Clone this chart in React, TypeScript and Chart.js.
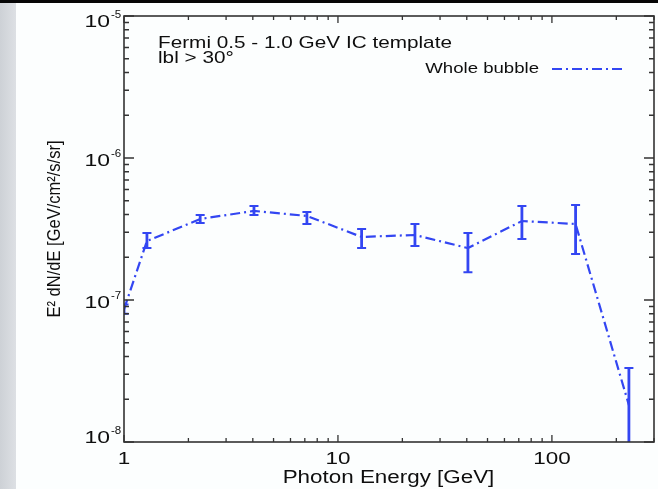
import React, { useEffect, useRef } from "react";
import { Chart, registerables } from "chart.js";

Chart.register(...registerables);

// ---- data ----
const energies = [1.0, 1.28, 2.27, 4.05, 7.16, 12.9, 22.9, 40.5, 72.4, 129, 229];
const flux = [8.6e-8, 2.6e-7, 3.72e-7, 4.24e-7, 3.91e-7, 2.78e-7, 2.87e-7, 2.32e-7, 3.6e-7, 3.43e-7, 1.82e-8];
const fluxHigh = [9.3e-8, 2.96e-7, 3.97e-7, 4.59e-7, 4.17e-7, 3.16e-7, 3.43e-7, 2.96e-7, 4.59e-7, 4.67e-7, 3.32e-8];
const fluxLow = [8.0e-8, 2.32e-7, 3.48e-7, 3.97e-7, 3.43e-7, 2.32e-7, 2.4e-7, 1.57e-7, 2.69e-7, 2.11e-7, 5e-9];

const xTickValues = [1, 10, 100];
const xTickLabels = ["1", "10", "100"];
const xMinorTicks = [2, 3, 4, 5, 6, 7, 8, 9, 20, 30, 40, 50, 60, 70, 80, 90, 200, 300];
const yTickValues = [1e-8, 1e-7, 1e-6, 1e-5];
const yTickBase = "10";
const yTickExponents = ["-8", "-7", "-6", "-5"];
const yMinorTicks = [2e-8, 3e-8, 4e-8, 5e-8, 6e-8, 7e-8, 8e-8, 9e-8, 2e-7, 3e-7, 4e-7, 5e-7, 6e-7, 7e-7, 8e-7, 9e-7, 2e-6, 3e-6, 4e-6, 5e-6, 6e-6, 7e-6, 8e-6, 9e-6];

const seriesLabel = "Whole bubble";
const annotationLines = ["Fermi 0.5 - 1.0 GeV IC template", "lbl > 30°"];
const xTitle = "Photon Energy [GeV]";
const yTitle = "E² dN/dE [GeV/cm²/s/sr]";

const BLUE = "#3346f2";
const DASH = [10, 4, 2, 4];
const FONT = '"Liberation Sans", Arial, Helvetica, sans-serif';
const TEXT = "#0e0e0e";

function stretchText(
  ctx: CanvasRenderingContext2D,
  text: string,
  x: number,
  y: number,
  size: number,
  sx: number,
  align: CanvasTextAlign
) {
  ctx.save();
  ctx.font = `${size}px ${FONT}`;
  ctx.fillStyle = TEXT;
  ctx.textAlign = align;
  ctx.textBaseline = "alphabetic";
  ctx.translate(x, y);
  ctx.scale(sx, 1);
  ctx.fillText(text, 0, 0);
  ctx.restore();
}

const decorPlugin = {
  id: "decor",
  beforeDraw(chart: any) {
    const ctx: CanvasRenderingContext2D = chart.ctx;
    const w = chart.width;
    const h = chart.height;
    ctx.save();
    ctx.fillStyle = "#fcfefe";
    ctx.fillRect(0, 0, w, h);
    const g = ctx.createLinearGradient(0, 0, 16, 0);
    g.addColorStop(0, "#cdd1d6");
    g.addColorStop(1, "#dde0e4");
    ctx.fillStyle = g;
    ctx.fillRect(0, 0, 16, h);
    ctx.fillStyle = "#060606";
    ctx.fillRect(0, 0, w, 3);
    ctx.restore();
  },
  afterDatasetsDraw(chart: any) {
    const ctx: CanvasRenderingContext2D = chart.ctx;
    const xs = chart.scales.x;
    const ys = chart.scales.y;
    const a = chart.chartArea;
    ctx.save();
    ctx.beginPath();
    ctx.rect(a.left, a.top, a.right - a.left, a.bottom - a.top);
    ctx.clip();
    ctx.strokeStyle = BLUE;
    energies.forEach((e, i) => {
      const px = xs.getPixelForValue(e);
      const ph = ys.getPixelForValue(fluxHigh[i]);
      const pl = ys.getPixelForValue(fluxLow[i]);
      ctx.lineWidth = 2.8;
      ctx.beginPath();
      ctx.moveTo(px, ph);
      ctx.lineTo(px, pl);
      ctx.stroke();
      ctx.lineWidth = 2;
      ctx.beginPath();
      ctx.moveTo(px - 4.5, ph);
      ctx.lineTo(px + 4.5, ph);
      ctx.moveTo(px - 4.5, pl);
      ctx.lineTo(px + 4.5, pl);
      ctx.stroke();
    });
    ctx.restore();
  },
  afterDraw(chart: any) {
    const ctx: CanvasRenderingContext2D = chart.ctx;
    const xs = chart.scales.x;
    const ys = chart.scales.y;
    const a = chart.chartArea;
    ctx.save();
    // frame
    ctx.strokeStyle = "#333333";
    ctx.lineWidth = 1.6;
    ctx.strokeRect(a.left, a.top, a.right - a.left, a.bottom - a.top);
    // ticks (inward on all sides)
    ctx.lineWidth = 1.3;
    ctx.beginPath();
    const xt = (v: number, len: number) => {
      const px = xs.getPixelForValue(v);
      if (px < a.left - 0.5 || px > a.right + 0.5) return;
      ctx.moveTo(px, a.bottom);
      ctx.lineTo(px, a.bottom - len);
      ctx.moveTo(px, a.top);
      ctx.lineTo(px, a.top + len);
    };
    xTickValues.forEach((v) => xt(v, 7));
    xMinorTicks.forEach((v) => xt(v, 4));
    const yt = (v: number, len: number) => {
      const py = ys.getPixelForValue(v);
      ctx.moveTo(a.left, py);
      ctx.lineTo(a.left + len, py);
      ctx.moveTo(a.right, py);
      ctx.lineTo(a.right - len, py);
    };
    yTickValues.forEach((v) => yt(v, 10));
    yMinorTicks.forEach((v) => yt(v, 5));
    ctx.stroke();
    ctx.restore();

    // x tick labels
    xTickValues.forEach((v, i) => {
      const px = xs.getPixelForValue(v);
      stretchText(ctx, xTickLabels[i], px, a.bottom + 22, 17, 1.32, "center");
    });
    // y tick labels: "10" with raised exponent
    yTickValues.forEach((v, i) => {
      const py = ys.getPixelForValue(v);
      const c = Math.min(Math.max(py + 2, a.top + 5), a.bottom - 5);
      stretchText(ctx, yTickBase, a.left - 14, c + 6, 17, 1.35, "right");
      stretchText(ctx, yTickExponents[i], a.left - 13, c - 3, 10.5, 1.1, "left");
    });
    // x title
    stretchText(ctx, xTitle, (a.left + a.right) / 2 - 0.5, 483, 17.5, 1.28, "center");
    // y title (rotated)
    ctx.save();
    ctx.font = `16.5px ${FONT}`;
    ctx.fillStyle = TEXT;
    ctx.textAlign = "center";
    ctx.textBaseline = "alphabetic";
    ctx.translate(60, 229);
    ctx.scale(1.15, 1);
    ctx.rotate(-Math.PI / 2);
    ctx.fillText(yTitle, 0, 0);
    ctx.restore();
    // annotation
    stretchText(ctx, annotationLines[0], 158, 48, 17, 1.22, "left");
    stretchText(ctx, annotationLines[1], 158, 63, 17, 1.22, "left");
    // legend
    stretchText(ctx, seriesLabel, 539, 73, 15.5, 1.2, "right");
    ctx.save();
    ctx.strokeStyle = BLUE;
    ctx.lineWidth = 2.2;
    ctx.setLineDash(DASH);
    ctx.beginPath();
    ctx.moveTo(552, 69);
    ctx.lineTo(624, 69);
    ctx.stroke();
    ctx.restore();
  },
};

export default function App() {
  const ref = useRef<HTMLCanvasElement | null>(null);

  useEffect(() => {
    document.body.style.margin = "0";
    const canvas = ref.current;
    if (!canvas) return;
    const chart = new Chart(canvas, {
      type: "line",
      data: {
        datasets: [
          {
            label: seriesLabel,
            data: energies.map((e, i) => ({ x: e, y: flux[i] })),
            borderColor: BLUE,
            borderWidth: 2.2,
            borderDash: DASH,
            pointRadius: 0,
            fill: false,
            tension: 0,
          },
        ],
      },
      options: {
        responsive: false,
        animation: false,
        devicePixelRatio: 1,
        layout: { padding: { left: 124, right: 4, top: 16, bottom: 47 } },
        scales: {
          x: { type: "logarithmic", min: 1, max: 300, display: false },
          y: { type: "logarithmic", min: 1e-8, max: 1e-5, display: false },
        },
        plugins: {
          legend: { display: false },
          tooltip: { enabled: false },
        },
      },
      plugins: [decorPlugin],
    } as any);
    return () => chart.destroy();
  }, []);

  return (
    <div style={{ width: 658, height: 489, position: "relative" }}>
      <canvas ref={ref} width={658} height={489} style={{ display: "block" }} />
    </div>
  );
}
